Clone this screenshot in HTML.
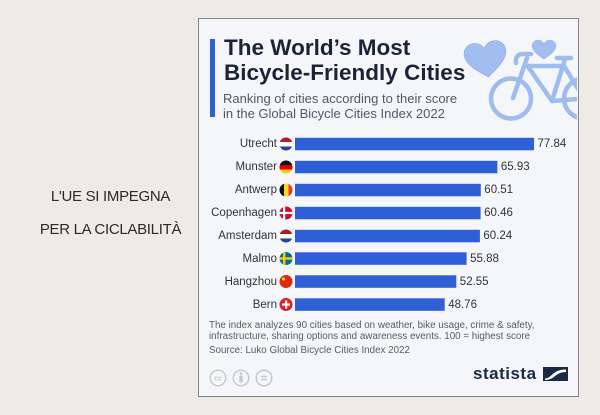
<!DOCTYPE html>
<html><head><meta charset="utf-8">
<style>
html,body{margin:0;padding:0;}
body{width:600px;height:415px;background:#eeebe6;position:relative;overflow:hidden;font-family:"Liberation Sans",sans-serif;}
.a{position:absolute;white-space:nowrap;}
#card{position:absolute;left:198px;top:18px;width:379px;height:377px;border:1px solid #858585;background:#f4f6fa;}
.city{position:absolute;right:323px;font-size:11.5px;line-height:14px;color:#333;text-align:right;white-space:nowrap;}
.val{position:absolute;font-size:11.5px;line-height:14px;color:#333;white-space:nowrap;}
.ft{position:absolute;left:209px;font-size:9.8px;line-height:12px;color:#585c62;white-space:nowrap;}
</style></head><body>
<div class="a" style="left:0;width:221px;top:180px;text-align:center;font-size:15px;line-height:33px;letter-spacing:-0.3px;color:#2a2a2a;">L'UE SI IMPEGNA<br>PER LA CICLABILITÀ</div>
<div id="card"></div>
<svg class="a" style="left:0;top:0" width="600" height="415" viewBox="0 0 600 415">
<defs>
<clipPath id="cc"><rect x="199" y="19" width="378" height="376"/></clipPath>
<clipPath id="f0"><circle cx="286" cy="144" r="6.5"/></clipPath>
<clipPath id="f1"><circle cx="286" cy="167" r="6.5"/></clipPath>
<clipPath id="f2"><circle cx="286" cy="190" r="6.5"/></clipPath>
<clipPath id="f3"><circle cx="286" cy="213" r="6.5"/></clipPath>
<clipPath id="f4"><circle cx="286" cy="236" r="6.5"/></clipPath>
<clipPath id="f5"><circle cx="286" cy="258.5" r="6.5"/></clipPath>
<clipPath id="f6"><circle cx="286" cy="281.5" r="6.5"/></clipPath>
<clipPath id="f7"><circle cx="286" cy="304.5" r="6.5"/></clipPath>
</defs>
<rect x="210" y="39" width="5" height="78" fill="#2f5fd7"/>
<g clip-path="url(#cc)" stroke="#9ebcee" stroke-width="4.5" fill="none" stroke-linecap="round" stroke-linejoin="round">
<circle cx="511" cy="98.5" r="20"/>
<circle cx="584" cy="98.5" r="20"/>
<path d="M513 98 L527 58"/>
<path d="M516 63 Q515 54 523 54 L531 54"/>
<path d="M527 66 L564 66"/>
<path d="M529 68 L552 101"/>
<path d="M565 59 L552 101"/>
<path d="M557 58 L571 58"/>
<path d="M552 101 L584 98.5"/>
<path d="M564 66 L584 98.5"/>
</g>
<g fill="#a2bef0" stroke="#7fa2e0" stroke-width="1.2">
<path transform="translate(465,42) rotate(-8 21 18) scale(0.42,0.4)" d="M50 88 C20 65 0 48 0 26 C0 10 12 0 26 0 C38 0 46 8 50 16 C54 8 62 0 74 0 C88 0 100 10 100 26 C100 48 80 65 50 88 Z"/>
<path transform="translate(532,40) scale(0.24,0.22)" d="M50 88 C20 65 0 48 0 26 C0 10 12 0 26 0 C38 0 46 8 50 16 C54 8 62 0 74 0 C88 0 100 10 100 26 C100 48 80 65 50 88 Z"/>
</g>
<g fill="#2f5fd7">
<rect x="295" y="137.8" width="239" height="12.5"/>
<rect x="295" y="160.8" width="202.4" height="12.5"/>
<rect x="295" y="183.8" width="185.8" height="12.5"/>
<rect x="295" y="206.8" width="185.6" height="12.5"/>
<rect x="295" y="229.8" width="184.9" height="12.5"/>
<rect x="295" y="252.3" width="171.6" height="12.5"/>
<rect x="295" y="275.3" width="161.3" height="12.5"/>
<rect x="295" y="298.3" width="149.7" height="12.5"/>
</g>
<!-- flags -->
<g clip-path="url(#f0)"><rect x="279" y="137" width="14" height="5" fill="#ae1c28"/><rect x="279" y="142" width="14" height="4.5" fill="#fff"/><rect x="279" y="146.5" width="14" height="5" fill="#21468b"/></g>
<g clip-path="url(#f1)"><rect x="279" y="160" width="14" height="5" fill="#111"/><rect x="279" y="165" width="14" height="4.5" fill="#dd0000"/><rect x="279" y="169.5" width="14" height="5" fill="#ffce00"/></g>
<g clip-path="url(#f2)"><rect x="279" y="183" width="5" height="14" fill="#111"/><rect x="284" y="183" width="4.5" height="14" fill="#fdda24"/><rect x="288.5" y="183" width="5" height="14" fill="#ef3340"/></g>
<g clip-path="url(#f3)"><rect x="279" y="206" width="14" height="14" fill="#c8102e"/><rect x="283" y="206" width="2.2" height="14" fill="#fff"/><rect x="279" y="211.9" width="14" height="2.2" fill="#fff"/></g>
<g clip-path="url(#f4)"><rect x="279" y="229" width="14" height="5" fill="#ae1c28"/><rect x="279" y="234" width="14" height="4.5" fill="#fff"/><rect x="279" y="238.5" width="14" height="5" fill="#21468b"/></g>
<g clip-path="url(#f5)"><rect x="279" y="251" width="14" height="14" fill="#006aa7"/><rect x="283" y="251" width="2.4" height="14" fill="#fecc00"/><rect x="279" y="257.3" width="14" height="2.4" fill="#fecc00"/></g>
<g clip-path="url(#f6)"><rect x="279" y="274" width="14" height="14" fill="#de2910"/><circle cx="283.5" cy="279" r="1.6" fill="#ffde00"/></g>
<g clip-path="url(#f7)"><rect x="279" y="297" width="14" height="14" fill="#e0202a"/><rect x="285" y="300.5" width="2.2" height="8" fill="#fff"/><rect x="282" y="303.4" width="8" height="2.2" fill="#fff"/></g>
<!-- cc icons -->
<g fill="none" stroke="#c8c8c8" stroke-width="1.4">
<circle cx="218" cy="378" r="7.8"/>
<circle cx="241" cy="378" r="7.8"/>
<circle cx="264" cy="378" r="7.8"/>
<path d="M261 376.5 L267 376.5 M261 379.5 L267 379.5"/>
</g>
<g fill="#c8c8c8"><circle cx="241" cy="373.5" r="1.3"/><rect x="239.3" y="375.5" width="3.4" height="7" rx="1"/></g>
<text x="218" y="380.5" font-family="Liberation Sans" font-size="7" font-weight="bold" fill="#c8c8c8" text-anchor="middle">cc</text>
<!-- statista logo icon -->
<rect x="543" y="367" width="25" height="14" fill="#1a2a44"/>
<path d="M545 378.5 C552 378.5 552 369.5 566 369.5 L566 372 C555 372 555 380 545 380 Z" fill="#fff"/>
</svg>
<div class="a" style="left:224px;top:34.6px;font-size:22.5px;line-height:25px;font-weight:bold;color:#1b2437;">The World’s Most<br>Bicycle-Friendly Cities</div>
<div class="a" style="left:223px;top:90.5px;font-size:13px;line-height:15px;color:#505a66;">Ranking of cities according to their score<br>in the Global Bicycle Cities Index 2022</div>

<div class="city" style="top:137px">Utrecht</div>
<div class="city" style="top:160px">Munster</div>
<div class="city" style="top:183px">Antwerp</div>
<div class="city" style="top:206px">Copenhagen</div>
<div class="city" style="top:229px">Amsterdam</div>
<div class="city" style="top:251.5px">Malmo</div>
<div class="city" style="top:274.5px">Hangzhou</div>
<div class="city" style="top:297.5px">Bern</div>

<div class="val" style="left:537.5px;top:137px">77.84</div>
<div class="val" style="left:500.9px;top:160px">65.93</div>
<div class="val" style="left:484.3px;top:183px">60.51</div>
<div class="val" style="left:484.1px;top:206px">60.46</div>
<div class="val" style="left:483.4px;top:229px">60.24</div>
<div class="val" style="left:470.1px;top:251.5px">55.88</div>
<div class="val" style="left:459.8px;top:274.5px">52.55</div>
<div class="val" style="left:448.2px;top:297.5px">48.76</div>

<div class="ft" style="top:319.6px">The index analyzes 90 cities based on weather, bike usage, crime &amp; safety,</div>
<div class="ft" style="top:331.3px">infrastructure, sharing options and awareness events. 100 = highest score</div>
<div class="ft" style="top:345px">Source: Luko Global Bicycle Cities Index 2022</div>

<div class="a" style="left:473px;top:364px;font-size:17px;line-height:20px;font-weight:bold;letter-spacing:0.5px;color:#1a2a44;">statista</div>
</body></html>
